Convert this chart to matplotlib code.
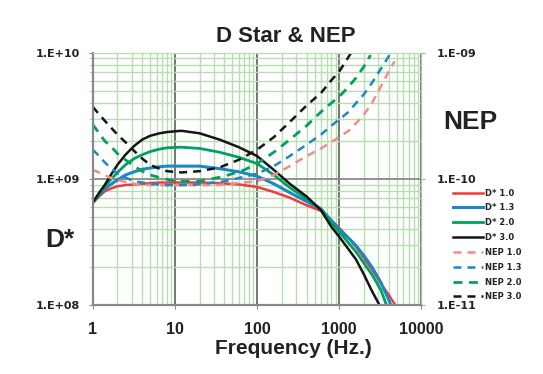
import matplotlib
matplotlib.use("Agg")
import matplotlib.pyplot as plt
import numpy as np

plt.rcParams['font.family'] = ['Liberation Sans', 'DejaVu Sans']

# D* curves: frequency in Hz, values as log10(D*)
freq_d = [1, 1.2, 1.4, 1.7, 2, 2.5, 3.2, 4, 5, 6.5, 8, 12, 20, 35, 60, 100,
          160, 250, 400, 600, 800, 1000, 1300, 1600, 2000, 2500, 3200, 4000,
          5000, 6000]
dstar_10 = [8.81, 8.86, 8.90, 8.925, 8.94, 8.95, 8.955, 8.96, 8.965, 8.97,
            8.97, 8.97, 8.97, 8.965, 8.955, 8.935, 8.895, 8.85, 8.79, 8.745,
            8.67, 8.61, 8.53, 8.46, 8.37, 8.28, 8.17, 8.08, 7.98, 7.90]
dstar_13 = [8.81, 8.87, 8.92, 8.96, 8.99, 9.03, 9.055, 9.075, 9.085, 9.095,
            9.10, 9.10, 9.10, 9.08, 9.055, 9.02, 8.96, 8.89, 8.82, 8.76,
            8.67, 8.60, 8.53, 8.47, 8.39, 8.30, 8.18, 8.04, 7.88, 7.75]
dstar_20 = [8.81, 8.88, 8.94, 9.00, 9.05, 9.11, 9.16, 9.19, 9.215, 9.235,
            9.245, 9.25, 9.24, 9.21, 9.17, 9.12, 9.03, 8.93, 8.84, 8.76,
            8.65, 8.58, 8.49, 8.42, 8.33, 8.24, 8.12, 7.95, 7.80, 7.70]
dstar_30 = [8.81, 8.89, 8.95, 9.04, 9.11, 9.19, 9.26, 9.31, 9.34, 9.36,
            9.37, 9.38, 9.36, 9.31, 9.25, 9.18, 9.07, 8.96, 8.86, 8.75,
            8.62, 8.54, 8.44, 8.36, 8.24, 8.11, 7.98, 7.85, 7.70, 7.60]

# NEP curves: frequency in Hz, values as log10(NEP)
freq_nep10 = [1, 1.3, 1.6, 2, 3.2, 5, 10, 32, 100, 160, 250, 400, 600, 800,
              1000, 1300, 1600, 2000, 2500, 3200, 4000, 4700]
nep_10 = [-9.93, -9.96, -9.99, -10.01, -10.04, -10.05, -10.05, -10.05, -10.02,
          -9.97, -9.90, -9.82, -9.76, -9.71, -9.67, -9.62, -9.56, -9.49, -9.40,
          -9.27, -9.15, -9.07]
freq_nep13 = [1, 1.2, 1.4, 1.7, 2, 2.5, 3.2, 5, 8, 16, 40, 100, 160, 250, 400,
              600, 800, 1000, 1300, 1600, 2000, 2500, 3200, 4000, 4200]
nep_13 = [-9.77, -9.82, -9.87, -9.92, -9.96, -9.99, -10.02, -10.04, -10.05,
          -10.05, -10.02, -9.96, -9.90, -9.82, -9.73, -9.65, -9.58, -9.53,
          -9.47, -9.40, -9.33, -9.24, -9.13, -9.03, -9.00]
freq_nep20 = [1, 1.2, 1.4, 1.7, 2, 2.5, 3.2, 4, 5, 6.5, 10, 20, 40, 70, 100,
              160, 250, 400, 600, 800, 1000, 1300, 1600, 2000, 2400]
nep_20 = [-9.57, -9.64, -9.70, -9.75, -9.80, -9.85, -9.90, -9.94, -9.97, -9.99,
          -10.02, -10.02, -9.98, -9.93, -9.88, -9.79, -9.69, -9.58, -9.47,
          -9.40, -9.35, -9.27, -9.20, -9.11, -9.02]
freq_nep30 = [1, 1.2, 1.4, 1.7, 2, 2.5, 3.2, 4, 5, 6.5, 8, 12, 20, 35, 60, 100,
              160, 250, 400, 600, 800, 1000, 1200, 1400]
nep_30 = [-9.43, -9.49, -9.54, -9.60, -9.65, -9.71, -9.78, -9.84, -9.89, -9.92,
          -9.94, -9.95, -9.94, -9.91, -9.85, -9.77, -9.67, -9.55, -9.42, -9.32,
          -9.22, -9.15, -9.07, -9.00]

fig = plt.figure(figsize=(5.43, 3.74), dpi=100)
ax = fig.add_axes([0.1707, 0.1845, 0.6055, 0.6751])
ax2 = ax.twinx()

red, blue, green, black = '#ee3b3b', '#1f86c6', '#00a060', '#151515'

ax.plot(freq_d, 10 ** np.array(dstar_10), color=red, lw=1.8, label="D* 1.0")
ax.plot(freq_d, 10 ** np.array(dstar_13), color=blue, lw=2.2, label="D* 1.3")
ax.plot(freq_d, 10 ** np.array(dstar_20), color=green, lw=2.0, label="D* 2.0")
ax.plot(freq_d, 10 ** np.array(dstar_30), color=black, lw=1.8, label="D* 3.0")

dash = (0, (3.2, 2.4))
ax2.plot(freq_nep10, 10 ** np.array(nep_10), color='#f28c8c', lw=1.8, ls=dash, label="NEP 1.0")
ax2.plot(freq_nep13, 10 ** np.array(nep_13), color=blue, lw=1.8, ls=dash, label="NEP 1.3")
ax2.plot(freq_nep20, 10 ** np.array(nep_20), color=green, lw=2.0, ls=dash, label="NEP 2.0")
ax2.plot(freq_nep30, 10 ** np.array(nep_30), color=black, lw=1.8, ls=dash, label="NEP 3.0")

ax.set_xscale('log')
ax.set_yscale('log')
ax2.set_yscale('log')
ax.set_xlim(1, 10000)
ax.set_ylim(1e8, 1e10)
ax2.set_ylim(1e-11, 1e-9)

# grid
ax.set_axisbelow(True)
ax.grid(which='minor', color='#b6deb0', lw=1.0)
ax.grid(which='major', axis='x', color='#6a6a6a', lw=1.3)
ax.grid(which='major', axis='y', color='#8a8a8a', lw=1.3)

# ticks and labels
ax.set_xticks([1, 10, 100, 1000, 10000])
ax.set_xticklabels(["1", "10", "100", "1000", "10000"], fontsize=11.5, fontweight='bold')
ax.set_yticks([1e8, 1e9, 1e10])
ax.set_yticklabels(["1.E+08", "1.E+09", "1.E+10"], fontsize=8, fontweight='bold',
                   family='DejaVu Sans')
ax2.set_yticks([1e-11, 1e-10, 1e-9])
ax2.set_yticklabels(["1.E-11", "1.E-10", "1.E-09"], fontsize=8, fontweight='bold',
                    family='DejaVu Sans')
ax.tick_params(axis='x', which='major', length=3, pad=9, colors='#888888', labelcolor='#222222')
ax.tick_params(axis='x', which='minor', length=0)
ax.tick_params(axis='y', which='major', length=3, pad=6, colors='#888888', labelcolor='#222222')
ax.tick_params(axis='y', which='minor', length=2.5, colors='#999999')
ax2.tick_params(axis='y', which='major', length=3, pad=8, colors='#aaaaaa', labelcolor='#222222')
ax2.tick_params(axis='y', which='minor', length=0)

for a in (ax, ax2):
    a.spines['left'].set_color('#888888')
    a.spines['left'].set_linewidth(1.5)
    a.spines['bottom'].set_color('#888888')
    a.spines['bottom'].set_linewidth(1.5)
    a.spines['top'].set_color('#b6deb0')
    a.spines['right'].set_color('#bbbbbb')

# text
fig.text(0.527, 0.902, "D Star & NEP", fontsize=16, fontweight='bold',
         ha='center', va='center', color='#222222')
fig.text(0.541, 0.069, "Frequency (Hz.)", fontsize=15, fontweight='bold',
         ha='center', va='center', color='#222222')
fig.text(0.866, 0.675, "NEP", fontsize=19, fontweight='bold',
         ha='center', va='center', color='#222222')
fig.text(0.110, 0.358, "D*", fontsize=19, fontweight='bold',
         ha='center', va='center', color='#222222')

h1, l1 = ax.get_legend_handles_labels()
h2, l2 = ax2.get_legend_handles_labels()
leg = fig.legend(h1 + h2, l1 + l2, loc='upper left', bbox_to_anchor=(0.826, 0.507),
                 frameon=False, borderpad=0, handlelength=3.6, handletextpad=0.3,
                 labelspacing=0.7, prop={'family': 'DejaVu Sans', 'weight': 'bold', 'size': 6})
for t in leg.get_texts():
    t.set_color('#222222')

fig.savefig("out.png", dpi=100)
